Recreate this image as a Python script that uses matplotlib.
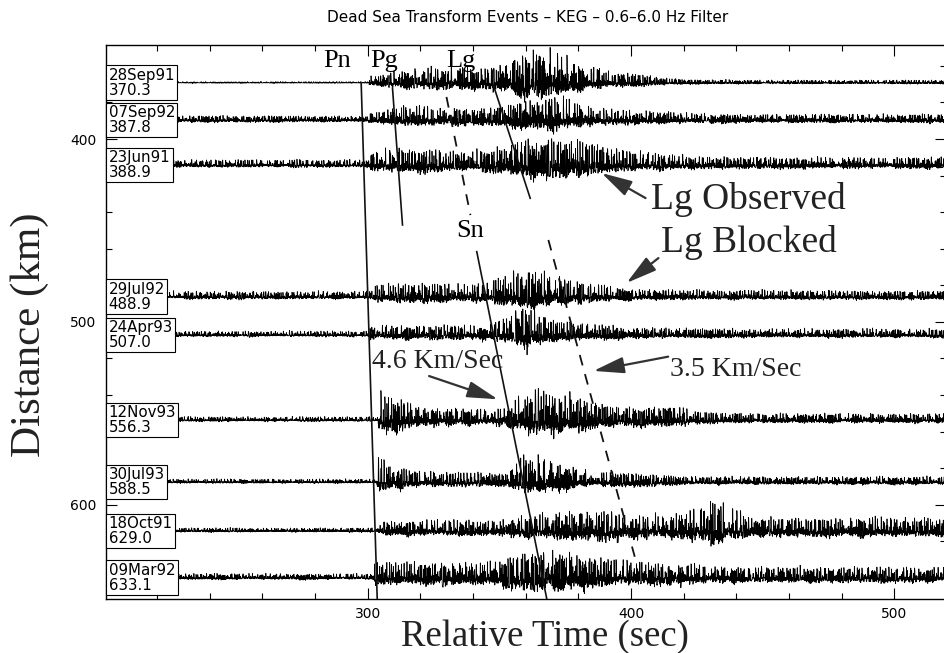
import numpy as np
import matplotlib
matplotlib.use('Agg')
import matplotlib.pyplot as plt
from matplotlib.ticker import MultipleLocator

# KEG record section, Dead Sea Transform events
dates = ['28Sep91', '07Sep92', '23Jun91', '29Jul92', '24Apr93',
         '12Nov93', '30Jul93', '18Oct91', '09Mar92']
distances = [370.3, 387.8, 388.9, 488.9, 507.0, 556.3, 588.5, 629.0, 633.1]
# plotting offset of each trace on the distance axis (km)
trace_pos = [369.2, 389.6, 414.2, 486.2, 507.1, 553.6, 587.5, 614.2, 639.8]
# first arrival time (s) and noise level before it
onsets = [300.5, 300.0, 301.0, 301.0, 300.5, 304.0, 303.5, 303.8, 302.5]
pre_noise = [0.4, 1.6, 2.0, 2.0, 1.4, 1.2, 1.1, 1.1, 1.5]

# amplitude envelopes after the first arrival
env_t = [300, 305, 310, 320, 335, 345, 352, 360, 370, 380, 390, 400,
         415, 425, 432, 445, 480, 519]
env_amp = [
    [2.5, 3, 4, 6, 6, 5, 8, 12, 13, 8, 5, 3.5, 1.5, 1.2, 1.2, 1, 1, 1],
    [2.5, 3, 5, 5, 4.5, 4.5, 5, 8, 9, 6, 4, 3.5, 3, 2.5, 2.3, 2.2, 2.2, 2.2],
    [4, 6, 6, 6, 5.5, 5.5, 7, 10, 10, 10, 7, 5, 4, 3.2, 3, 3, 3, 3],
    [4, 5, 5, 5, 5, 5, 9, 10, 8, 6, 4, 3, 2.7, 2.5, 2.5, 2.5, 2.3, 2.3],
    [3.5, 3.5, 3.5, 3.5, 3.5, 3.5, 6, 11, 6, 4.5, 4, 3, 2.5, 2.5, 2.4, 2.3, 2.3, 2.3],
    [10, 10, 9, 5, 4.5, 4.5, 4.5, 10, 11, 9, 6, 5, 5.5, 3.5, 3, 2.5, 2.5, 2.5],
    [8, 8, 6, 4, 3.5, 3.5, 3.5, 10, 9, 5, 4, 3.5, 2.5, 2, 2, 2, 2, 2],
    [3.5, 3.5, 4, 4, 4, 4, 4.5, 5.5, 7, 8, 7.5, 6, 6, 9, 12, 5, 5, 5],
    [6, 6, 6, 6, 6, 6, 8, 10, 11, 9, 8, 6, 6, 5, 5, 4, 4, 4],
]

# phase picks drawn across the section: (time s, distance km)
pn_pick = ([297.5, 303.6], [369.2, 651.5])
pg_pick = ([309.4, 313.2], [372.1, 447.0])
lg_upper = ([329.9, 339.0], [377.0, 441.6])
lg_obs = ([347.7, 361.7], [370.5, 432.4])
sn_pick = ([341.4, 368.0], [461.6, 651.5])
lg_lower = ([368.6, 401.4], [455.2, 628.4])

gain = 0.5
dt = 0.05
t = np.arange(200, 519.01, dt)


def wiggle(k):
    # chaotic logistic-map sequence, band-passed to roughly 0.6-6 Hz
    x = np.empty(t.size + 80)
    v = 0.1234 + 0.0731 * k
    for i in range(x.size):
        v = 3.9999 * v * (1.0 - v)
        x[i] = v
    x -= x.mean()
    x = np.convolve(x, [0.25, 0.5, 0.25], mode='same')
    x -= np.convolve(x, np.ones(33) / 33, mode='same')
    x = x[40:40 + t.size]
    x = x / x.std()
    # sharper peaks, like the filtered records
    x = np.sign(x) * np.abs(x) ** 1.3
    return x / x.std()


fig = plt.figure(figsize=(9.44, 6.53), dpi=100)
ax = fig.add_axes([106 / 944, 1 - 599 / 653, 840 / 944, 554 / 653])

for k in range(len(dates)):
    env = np.interp(t, env_t, env_amp[k])
    env = np.where(t < onsets[k], pre_noise[k], env)
    ax.plot(t, trace_pos[k] + gain * env * wiggle(k), color='k', lw=0.55, zorder=2)
    ax.text(201.6, trace_pos[k], f'{dates[k]}\n{distances[k]:.1f}',
            ha='left', va='center', fontsize=10.8, family='DejaVu Sans',
            linespacing=1.0, zorder=6,
            bbox=dict(boxstyle='square,pad=0.15', fc='white', ec='black', lw=0.8))

for tt, dd in (pn_pick, pg_pick, lg_obs, sn_pick):
    ax.plot(tt, dd, color='#111111', lw=1.2, zorder=4)
for tt, dd in (lg_upper, lg_lower):
    ax.plot(tt, dd, color='#111111', lw=1.3, dashes=(6, 5), zorder=4)

serif = 'Liberation Serif'
for lab, x in (('Pn', 288.5), ('Pg', 306.3), ('Lg', 335.2)):
    ax.text(x, 360.6, lab, ha='center', va='baseline', fontsize=19, family=serif, zorder=5)
ax.text(339.0, 453.4, 'Sn', ha='center', va='baseline', fontsize=19, family=serif, zorder=5)
ax.text(444.6, 438.3, 'Lg Observed', ha='center', va='baseline', fontsize=27,
        family=serif, color='#222222', zorder=5)
ax.text(444.6, 462.0, 'Lg Blocked', ha='center', va='baseline', fontsize=27,
        family=serif, color='#222222', zorder=5)
ax.text(301.5, 525.3, '4.6 Km/Sec', ha='left', va='baseline', fontsize=20,
        family=serif, color='#222222', zorder=5)
ax.text(414.6, 529.8, '3.5 Km/Sec', ha='left', va='baseline', fontsize=20,
        family=serif, color='#222222', zorder=5)

arrow = dict(arrowstyle='-|>,head_length=0.75,head_width=0.2', mutation_scale=25,
             color='#333333', lw=1.6, shrinkA=0, shrinkB=0)
for tip, tail in (((388.8, 418.6), (405.5, 432.3)),
                  ((398.3, 478.7), (410.4, 465.1)),
                  ((349.4, 542.3), (323.3, 529.6)),
                  ((385.7, 526.8), (414.1, 519.0))):
    ax.annotate('', xy=tip, xytext=tail, arrowprops=arrow, zorder=5)

ax.set_xlim(200.6, 519.6)
ax.set_ylim(651.5, 348.6)
ax.xaxis.set_major_locator(MultipleLocator(100))
ax.xaxis.set_minor_locator(MultipleLocator(20))
ax.yaxis.set_major_locator(MultipleLocator(100))
ax.yaxis.set_minor_locator(MultipleLocator(20))
ax.tick_params(which='both', direction='in', top=True, right=True, width=0.8)
ax.tick_params(which='major', length=8, labelsize=10, pad=7)
ax.tick_params(axis='x', which='major', pad=5.5)
ax.tick_params(which='minor', length=4)
for s in ax.spines.values():
    s.set_linewidth(1.0)

fig.text(528 / 944, 1 - 21.7 / 653, 'Dead Sea Transform Events \u2013 KEG \u2013 0.6\u20136.0 Hz Filter',
         ha='center', va='baseline', fontsize=11, family='DejaVu Sans')
fig.text(545 / 944, 1 - 646 / 653, 'Relative Time (sec)', ha='center', va='baseline',
         fontsize=26.5, family=serif, color='#222222')
fig.text(30 / 944, 1 - 335 / 653, 'Distance (km)', ha='center', va='center',
         rotation=90, fontsize=31, family=serif, color='#222222')

fig.savefig('out.png', dpi=100)
